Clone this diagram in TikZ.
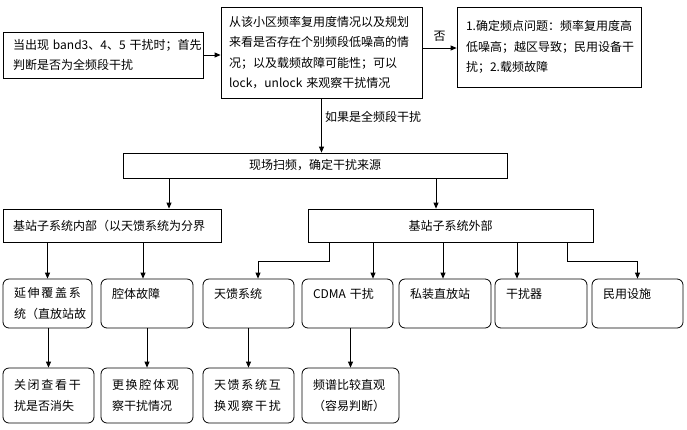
\documentclass[tikz,border=0pt]{standalone}
\usepackage{fontspec}
\newfontfamily\cjk{Noto Sans CJK SC}
\usepackage{tikz}
\usetikzlibrary{arrows.meta, positioning, calc}
\newcommand{\spreadline}[1]{\makebox[67pt][s]{#1}}

\begin{document}
\begin{tikzpicture}[
    x=1pt, y=-1pt,
    >={Triangle[length=6pt,width=5pt]},
    every node/.style={font=\cjk\fontsize{12}{20.5}\selectfont},
    sqbox/.style={draw, line width=0.8pt, inner xsep=#1, inner ysep=0pt, align=left},
    rbox/.style={draw, rounded corners=6pt, line width=0.8pt, inner xsep=11pt, inner ysep=0pt, align=left},
    conn/.style={->, line width=0.8pt}
]
\useasboundingbox (0,0) rectangle (687,429);

% First row
\node[sqbox=10pt, text width=180pt, minimum height=46pt] (start) at (103,55)
    {当出现~band3、4、5~干扰时；首先\\判断是否为全频段干扰};
\node[sqbox=8pt, text width=185pt, minimum height=91pt] (check) at (321.5,52.5)
    {从该小区频率复用度情况以及规划\\来看是否存在个别频段低噪高的情\\况；以及载频故障可能性；可以\\lock，unlock~来观察干扰情况};
\node[sqbox=9pt, text width=166pt, minimum height=80pt] (freq) at (549,47)
    {1.确定频点问题：频率复用度高\\低噪高；越区导致；民用设备干\\扰；2.载频故障};

% Scan box
\node[sqbox=10pt, text width=364pt, minimum height=25pt, align=center] (scan) at (315,165.5)
    {现场扫频，确定干扰来源};

% Inside / outside
\node[sqbox=10pt, text width=198pt, minimum height=33pt] (inside) at (112,225.5)
    {基站子系统内部（以天馈系统为分界};
\node[sqbox=10pt, text width=265pt, minimum height=33pt, align=center] (outside) at (450.5,225.5)
    {基站子系统外部};

% Row 3: causes
\foreach \n/\x/\tw/\t in {
    cover/47.5/67/{\spreadline{延\hfil 伸\hfil 覆\hfil 盖\hfil 系}\\\spreadline{统\hfil （\hfil 直\hfil 放\hfil 站\hfil 故}},
    cavity/147/70/{腔体故障\\\mbox{}},
    feeder/248.5/69/{天馈系统\\\mbox{}},
    cdma/347.5/69/{CDMA~干扰\\\mbox{}},
    repeater/445/70/{私装直放站\\\mbox{}},
    jammer/541/70/{干扰器\\\mbox{}},
    civil/637.5/69/{民用设施\\\mbox{}}}
    \node[rbox, text width=\tw pt, minimum height=49pt] (\n) at (\x,303.5) {\t};

% Row 4: checks
\foreach \n/\x/\tw/\t in {
    shutoff/48.5/69/{\spreadline{关\hfil 闭\hfil 查\hfil 看\hfil 干}\\扰是否消失},
    swapcav/147/70/{\spreadline{更\hfil 换\hfil 腔\hfil 体\hfil 观}\\察干扰情况},
    swapfeed/248.5/69/{\spreadline{天\hfil 馈\hfil 系\hfil 统\hfil 互}\\\spreadline{换\hfil 观\hfil 察\hfil 干\hfil 扰}},
    spectrum/350.5/75/{频谱比较直观\\（容易判断）}}
    \node[rbox, text width=\tw pt, minimum height=55pt] (\n) at (\x,395.5) {\t};

% Connections: first row
\draw[conn] (start.east) -- (start.east -| check.west);
\draw[conn] ([yshift=4.5pt]check.east) -- node[above, yshift=3pt] (no) {否} ([yshift=4.5pt]check.east -| freq.west);
\draw[conn] (check.south) -- node[right, pos=0.35] (full) {如果是全频段干扰} (check.south |- scan.north);

% Connections: scan -> inside / outside
\draw[conn] ([xshift=57pt]inside.north |- scan.south) -- ([xshift=57pt]inside.north);
\draw[conn] ([xshift=-14.5pt]outside.north |- scan.south) -- ([xshift=-14.5pt]outside.north);

% Connections: inside -> causes
\draw[conn] (cover.north |- inside.south) -- (cover.north);
\draw[conn] ([xshift=-4pt]cavity.north |- inside.south) -- ([xshift=-4pt]cavity.north);

% Connections: outside -> causes
\draw[conn] ([xshift=-121.5pt]outside.south) -- ++(0,19) -| ([xshift=9.5pt]feeder.north);
\draw[conn] ([xshift=25.5pt]cdma.north |- outside.south) -- ([xshift=25.5pt]cdma.north);
\draw[conn] ([xshift=-2pt]repeater.north |- outside.south) -- ([xshift=-2pt]repeater.north);
\draw[conn] ([xshift=-24pt]jammer.north |- outside.south) -- ([xshift=-24pt]jammer.north);
\draw[conn] ([xshift=116.5pt]outside.south) -- ++(0,19) -| (civil.north);

% Connections: causes -> checks
\foreach \a/\b in {cover/shutoff, cavity/swapcav, feeder/swapfeed, cdma/spectrum}
    \draw[conn] (\a.south -| \b.north) -- (\b.north);

\end{tikzpicture}
\end{document}
